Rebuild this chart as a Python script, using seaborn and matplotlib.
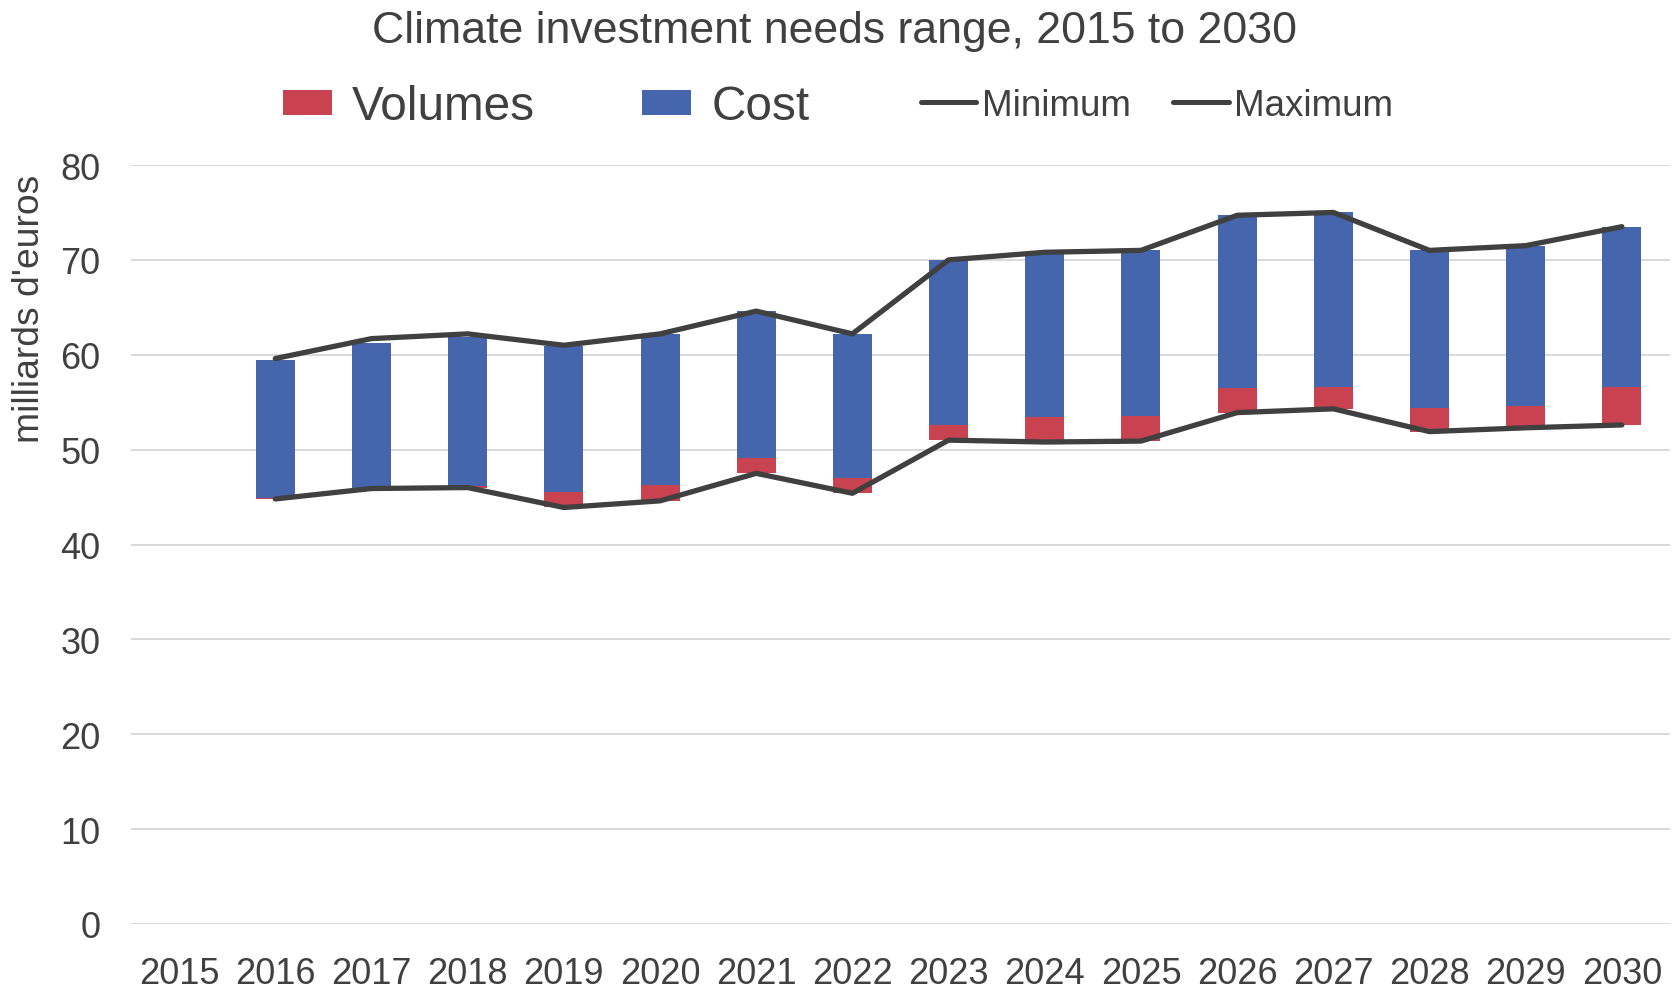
import matplotlib
matplotlib.use("Agg")
import matplotlib.pyplot as plt
from matplotlib.patches import Patch
from matplotlib.lines import Line2D
import numpy as np
import pandas as pd
import seaborn as sns

# Climate investment needs, billions of euros
years = [2016, 2017, 2018, 2019, 2020, 2021, 2022, 2023,
         2024, 2025, 2026, 2027, 2028, 2029, 2030]
tick_years = list(range(2015, 2031))
minimum = [44.8, 45.9, 46.0, 43.9, 44.6, 47.5, 45.4, 51.0,
           50.8, 50.9, 53.9, 54.3, 51.9, 52.3, 52.6]
maximum = [59.6, 61.7, 62.2, 61.0, 62.2, 64.6, 62.2, 70.0,
           70.8, 71.0, 74.7, 75.0, 71.0, 71.5, 73.5]
volumes = [0.15, 0.1, 0.2, 1.65, 1.7, 1.6, 1.6, 1.6,
           2.6, 2.65, 2.6, 2.35, 2.45, 2.25, 3.95]
cost = [14.5, 15.25, 15.65, 15.4, 15.9, 15.5, 15.2, 17.35,
        17.25, 17.5, 18.25, 18.35, 16.65, 16.95, 16.95]

RED = "#C8434F"
BLUE = "#4565AD"
DARK = "#404040"
TEXT = "#404040"

sns.set_theme(style="white")
plt.rcParams["font.family"] = ["Liberation Sans", "DejaVu Sans"]
plt.rcParams["text.color"] = TEXT

df = pd.DataFrame({"year": years, "minimum": minimum, "maximum": maximum,
                   "volumes": volumes, "cost": cost})
df["cost_base"] = df["minimum"] + df["volumes"]

fig = plt.figure(figsize=(16.81, 9.95), dpi=100)
ax = fig.add_axes([131 / 1681, 1 - 925 / 995, (1670 - 131) / 1681, (925 - 166) / 995])

# stacked range bars sitting on the minimum
sns.barplot(data=df, x="year", y="volumes", bottom=df["minimum"], native_scale=True,
            color=RED, saturation=1, width=0.405, linewidth=0, errorbar=None, ax=ax,
            zorder=2)
sns.barplot(data=df, x="year", y="cost", bottom=df["cost_base"], native_scale=True,
            color=BLUE, saturation=1, width=0.405, linewidth=0, errorbar=None, ax=ax,
            zorder=2)

# envelope lines
for col in ["minimum", "maximum"]:
    sns.lineplot(data=df, x="year", y=col, color=DARK, linewidth=3.8, ax=ax,
                 solid_capstyle="round", solid_joinstyle="round", zorder=3)

ax.set_xlim(2014.5, 2030.5)
ax.set_ylim(0, 80)
ax.set_xticks(tick_years)
ax.set_xticklabels([str(y) for y in tick_years])
ax.set_yticks(np.arange(0, 81, 10))
ax.yaxis.grid(True, color="#D9D9D9", linewidth=1.4, zorder=0)
ax.xaxis.grid(False)
ax.set_axisbelow(True)
for s in ax.spines.values():
    s.set_visible(False)
ax.tick_params(axis="both", length=0, labelsize=26, colors=TEXT)
ax.tick_params(axis="y", pad=22)
ax.tick_params(axis="x", pad=23)
ax.set_xlabel("")
ax.set_ylabel("")

fig.text(30 / 1681, 1 - 309 / 995, "milliards d'euros", rotation=90,
         ha="center", va="center", fontsize=26.8, color=TEXT)
fig.text(835 / 1681, 1 - 43 / 995, "Climate investment needs range, 2015 to 2030",
         ha="center", va="baseline", fontsize=32.1, color=TEXT)

# legends: bar series and line series
bar_handles = [Patch(facecolor=RED, edgecolor="none", label="Volumes"),
               Patch(facecolor=BLUE, edgecolor="none", label="Cost")]
leg1 = fig.legend(handles=bar_handles, loc="center left",
                  bbox_to_anchor=(283 / 1681, 1 - 108 / 995), ncol=2, frameon=False,
                  fontsize=34.4, handlelength=1.02, handleheight=0.41,
                  handletextpad=0.42, columnspacing=2.25, borderpad=0, borderaxespad=0)
line_handles = [Line2D([0], [0], color=DARK, lw=3.6, solid_capstyle="round", label="Minimum"),
                Line2D([0], [0], color=DARK, lw=3.6, solid_capstyle="round", label="Maximum")]
leg2 = fig.legend(handles=line_handles, loc="center left",
                  bbox_to_anchor=(921 / 1681, 1 - 106 / 995), ncol=2, frameon=False,
                  fontsize=26.5, handlelength=1.5, handletextpad=0.16,
                  columnspacing=1.15, borderpad=0, borderaxespad=0)
for leg in (leg1, leg2):
    for t in leg.get_texts():
        t.set_color(TEXT)

fig.savefig("out.png", dpi=100)
